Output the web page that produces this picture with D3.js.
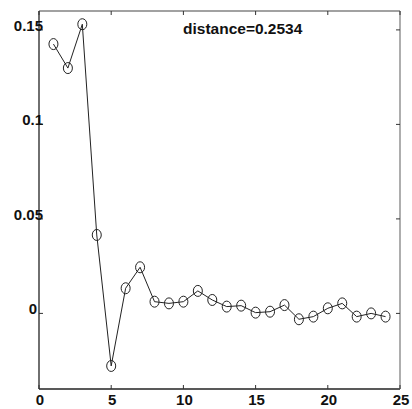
<!DOCTYPE html>
<html>
  <head>
    <meta charset="utf-8">
    <title>distance</title>
    <script src="https://d3js.org/d3.v7.min.js"></script>
    <style>
      body { margin: 0; background: #fff; }
      text { font-family: "Liberation Sans", Arial, sans-serif; font-weight: bold; fill: #111; }
    </style>
  </head>
  <body>
    <svg id="chart" width="412" height="409"></svg>
    <script>
      // values
      lags = d3.range(1, 25);
      values = [0.1425, 0.1298, 0.153, 0.0415, -0.0278, 0.0133, 0.0244, 0.0062,
                0.0053, 0.0062, 0.0119, 0.0071, 0.0036, 0.0041, 0.0004, 0.0009,
                0.0044, -0.0031, -0.0017, 0.0027, 0.0053, -0.0017, 0.0000, -0.0017];
      xTicks = [0, 5, 10, 15, 20, 25];
      yTicks = [0, 0.05, 0.1, 0.15];
      yLabels = ["0", "0.05", "0.1", "0.15"];
      title = "distance=0.2534";

      svg = d3.select("#chart");
      margin = { top: 11, right: 12, bottom: 20, left: 39 };
      width = 412; height = 409;

      x = d3.scaleLinear().domain([0, 25]).range([margin.left, width - margin.right]);
      y = d3.scaleLinear().domain([-0.04, 0.16]).range([height - margin.bottom, margin.top]);

      // frame: left/bottom dark, top/right lighter as in the scan
      svg.append("line").attr("x1", x(0)).attr("x2", x(25)).attr("y1", y(-0.04)).attr("y2", y(-0.04))
        .attr("stroke", "#222").attr("stroke-width", 1.3);
      svg.append("line").attr("x1", x(0)).attr("x2", x(0)).attr("y1", y(-0.04)).attr("y2", y(0.16))
        .attr("stroke", "#222").attr("stroke-width", 1.3);
      svg.append("line").attr("x1", x(0)).attr("x2", x(25)).attr("y1", y(0.16)).attr("y2", y(0.16))
        .attr("stroke", "#444").attr("stroke-width", 1.2);
      svg.append("line").attr("x1", x(25)).attr("x2", x(25)).attr("y1", y(-0.04)).attr("y2", y(0.16))
        .attr("stroke", "#777").attr("stroke-width", 1.2);

      // ticks (inward, all four sides)
      tick = 4;
      g = svg.append("g").attr("stroke", "#333").attr("stroke-width", 1);
      xTicks.forEach(function(t) {
        g.append("line").attr("x1", x(t)).attr("x2", x(t)).attr("y1", y(-0.04)).attr("y2", y(-0.04) - tick);
        g.append("line").attr("x1", x(t)).attr("x2", x(t)).attr("y1", y(0.16)).attr("y2", y(0.16) + tick);
      });
      yTicks.forEach(function(t) {
        g.append("line").attr("x1", x(0)).attr("x2", x(0) + tick).attr("y1", y(t)).attr("y2", y(t));
        g.append("line").attr("x1", x(25)).attr("x2", x(25) - tick).attr("y1", y(t)).attr("y2", y(t));
      });

      // tick labels
      svg.selectAll(".xl").data(xTicks).enter().append("text")
        .attr("class", "xl")
        .attr("x", function(d) { return x(d) + 1; })
        .attr("y", 405)
        .attr("text-anchor", "middle")
        .attr("font-size", 15)
        .text(function(d) { return d; });
      svg.selectAll(".yl").data(yTicks).enter().append("text")
        .attr("class", "yl")
        .attr("x", function(d) { return d === 0 ? x(0) - 2 : x(0) + 4; })
        .attr("y", function(d) { return y(d) + 1; })
        .attr("text-anchor", "end")
        .attr("font-size", 15)
        .text(function(d, i) { return yLabels[i]; });

      // series
      line = d3.line()
        .x(function(d, i) { return x(lags[i]); })
        .y(function(d) { return y(d); });
      svg.append("path")
        .datum(values)
        .attr("d", line)
        .attr("fill", "none")
        .attr("stroke", "#222")
        .attr("stroke-width", 1);
      svg.selectAll(".pt").data(values).enter().append("ellipse")
        .attr("class", "pt")
        .attr("cx", function(d, i) { return x(lags[i]); })
        .attr("cy", function(d) { return y(d); })
        .attr("rx", 4.5).attr("ry", 5.5)
        .attr("fill", "none")
        .attr("stroke", "#222")
        .attr("stroke-width", 1);

      // title
      svg.append("text")
        .attr("x", 183).attr("y", 34)
        .attr("font-size", 15.5)
        .text(title);
    </script>
  </body>
</html>
